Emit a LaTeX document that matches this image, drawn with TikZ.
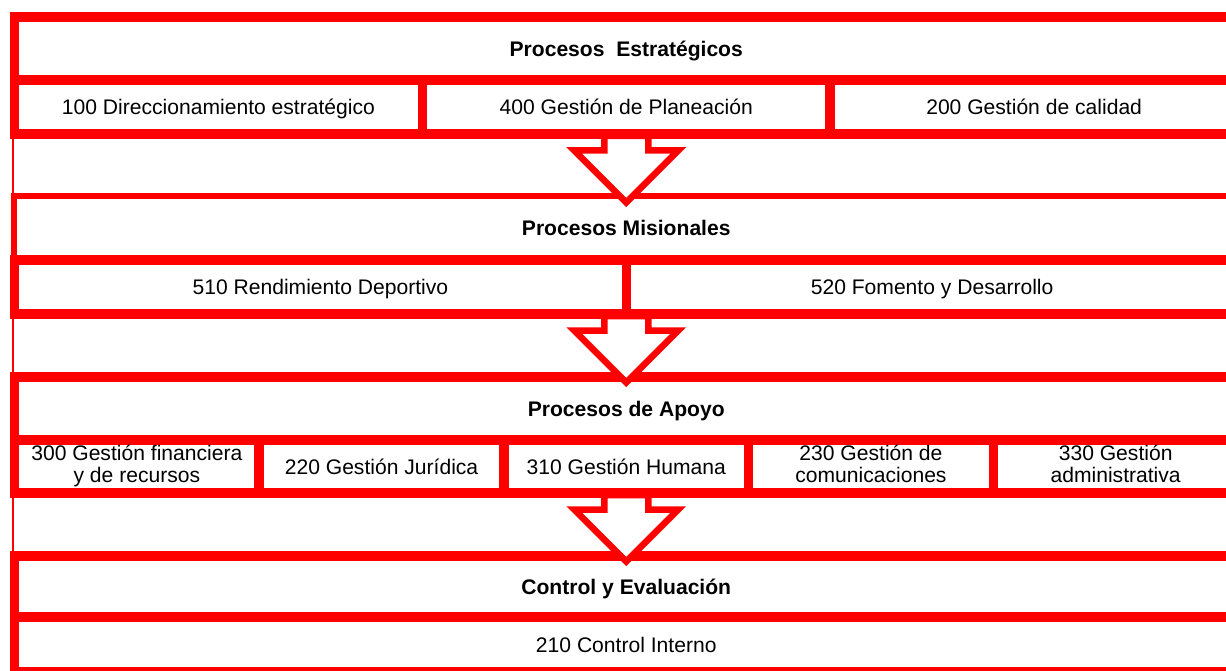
\documentclass[tikz,border=0pt]{standalone}
\usepackage{fontspec}
\setmainfont{Liberation Sans}
\usetikzlibrary{calc}

\definecolor{rojo}{RGB}{255,0,0}
\newcommand{\flecha}[1]{%
  \draw[flecha] ($(#1)+(-0.44,-0.04)$) -- ++(0,-0.29) -- ++(-0.6,0) -- ++(1.04,-1.04) -- ++(1.04,1.04) -- ++(-0.6,0) -- ++(0,0.29) -- cycle;}

\begin{document}
\begin{tikzpicture}[
  caja/.style={draw=rojo,fill=white,line width=0.19cm,rectangle,inner sep=0pt,outer sep=0pt,align=center,font=\fontsize{12}{12.5}\selectfont,
    execute at begin node={\rule{0pt}{12pt}},execute at end node={\rule[-3.4pt]{0pt}{3.4pt}}},
  titulo/.style={caja,minimum width=24.47cm,font=\fontsize{12}{12.5}\selectfont\bfseries},
  celda/.style={caja,anchor=north west},
  flecha/.style={draw=rojo,fill=white,line width=0.13cm,line join=miter}]
  \clip (0,0) rectangle (24.52,-13.4);

  % Procesos estrategicos
  \node[titulo,minimum height=1.26cm] (estrategicos) at (12.525,-0.97) {Procesos\ \ Estratégicos};
  \node[celda,minimum width=8.157cm,minimum height=1.08cm] (direccionamiento) at (estrategicos.south west) {100 Direccionamiento estratégico};
  \node[celda,minimum width=8.157cm,minimum height=1.08cm] (planeacion) at (direccionamiento.north east) {400 Gestión de Planeación};
  \node[celda,minimum width=8.157cm,minimum height=1.08cm] (calidad) at (planeacion.north east) {200 Gestión de calidad};

  % Procesos misionales
  \node[titulo,line width=0.12cm,minimum height=1.28cm] (misionales) at (12.525,-4.56) {Procesos Misionales};
  \node[celda,minimum width=12.235cm,minimum height=1.08cm] (rendimiento) at (misionales.south west) {510 Rendimiento Deportivo};
  \node[celda,minimum width=12.235cm,minimum height=1.08cm] (fomento) at (rendimiento.north east) {520 Fomento y Desarrollo};

  % Procesos de apoyo
  \node[titulo,minimum height=1.26cm] (apoyo) at (12.525,-8.17) {Procesos de Apoyo};
  \node[celda,minimum width=4.894cm,minimum height=1.06cm] (financiera) at (apoyo.south west) {300 Gestión financiera\\y de recursos};
  \node[celda,minimum width=4.894cm,minimum height=1.06cm] (juridica) at (financiera.north east) {220 Gestión Jurídica};
  \node[celda,minimum width=4.894cm,minimum height=1.06cm] (humana) at (juridica.north east) {310 Gestión Humana};
  \node[celda,minimum width=4.894cm,minimum height=1.06cm] (comunicaciones) at (humana.north east) {230 Gestión de\\comunicaciones};
  \node[celda,minimum width=4.894cm,minimum height=1.06cm] (administrativa) at (comunicaciones.north east) {330 Gestión\\administrativa};

  % Control y evaluacion
  \node[titulo,minimum height=1.22cm] (control) at (12.525,-11.73) {Control y Evaluación};
  \node[celda,minimum width=24.47cm,minimum height=1.10cm] (interno) at (control.south west) {210 Control Interno};

  % Flechas
  \flecha{planeacion.south}
  \flecha{rendimiento.south east}
  \flecha{humana.south}

  % linea izquierda
  \draw[rojo,line width=0.04cm] ($(estrategicos.north west)+(-0.02,0)$) -- ($(interno.south west)+(-0.02,0)$);
\end{tikzpicture}
\end{document}
